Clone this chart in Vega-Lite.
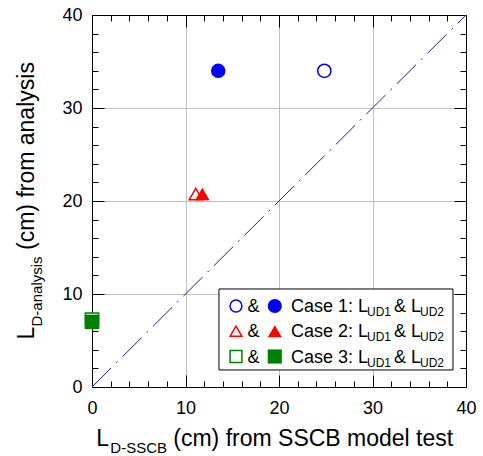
{
  "$schema": "https://vega.github.io/schema/vega-lite/v6.json",
  "width": 374,
  "height": 372,
  "autosize": {"type": "none"},
  "padding": {"left": 92, "top": 15, "right": 17, "bottom": 69},
  "background": "white",
  "config": {
    "view": {"stroke": null},
    "font": "Liberation Sans",
    "axis": {
      "domainColor": "black",
      "domainWidth": 1,
      "tickColor": "black",
      "tickWidth": 1,
      "tickCount": 100,
      "format": "d",
      "labelColor": "black",
      "labelFont": "Liberation Sans",
      "labelFontSize": 18,
      "labelFlush": false,
      "labelOverlap": false,
      "gridColor": "#c0c0c0",
      "gridWidth": 1
    }
  },
  "datasets": {
    "points": [
      {"case": "Case 1", "kind": "LUD1", "x": 24.85, "y": 34.0},
      {"case": "Case 1", "kind": "LUD2", "x": 13.5, "y": 34.0},
      {"case": "Case 2", "kind": "LUD1", "x": 11.1, "y": 20.75},
      {"case": "Case 2", "kind": "LUD2", "x": 11.8, "y": 20.75},
      {"case": "Case 3", "kind": "LUD1", "x": 0, "y": 7.25},
      {"case": "Case 3", "kind": "LUD2", "x": 0, "y": 7.0}
    ],
    "diag": [{"x": 0, "y": 0}, {"x": 40, "y": 40}],
    "legend": [
      {"case": "Case 1", "label": "Case 1: L"},
      {"case": "Case 2", "label": "Case 2: L"},
      {"case": "Case 3", "label": "Case 3: L"}
    ]
  },
  "layer": [
    {
      "layer": [
        {
          "data": {"name": "points"},
          "transform": [{"filter": "datum.kind === 'LUD1'"}],
          "mark": {"type": "point", "filled": false, "fill": "white", "strokeWidth": 1.5, "size": 175, "opacity": 1},
          "encoding": {
            "x": {
              "field": "x", "type": "quantitative",
              "scale": {"domain": [0, 40], "nice": false, "zero": false},
              "axis": {
                "orient": "bottom", "title": null, "tickCount": 100, "format": "d",
                "values": [0, 2, 4, 6, 8, 10, 12, 14, 16, 18, 20, 22, 24, 26, 28, 30, 32, 34, 36, 38, 40],
                "labelExpr": "datum.value % 10 === 0 ? datum.label : ''",
                "tickSize": {"condition": {"test": "datum.value % 10 === 0", "value": -12}, "value": -6},
                "grid": true,
                "gridOpacity": {"condition": {"test": "datum.value % 10 === 0 && datum.value > 0 && datum.value < 40", "value": 1}, "value": 0},
                "labelPadding": 24
              }
            },
            "y": {
              "field": "y", "type": "quantitative",
              "scale": {"domain": [0, 40], "nice": false, "zero": false},
              "axis": {
                "orient": "left", "title": null, "tickCount": 100, "format": "d",
                "values": [0, 2, 4, 6, 8, 10, 12, 14, 16, 18, 20, 22, 24, 26, 28, 30, 32, 34, 36, 38, 40],
                "labelExpr": "datum.value % 10 === 0 ? datum.label : ''",
                "tickSize": {"condition": {"test": "datum.value % 10 === 0", "value": -12}, "value": -6},
                "grid": true,
                "gridOpacity": {"condition": {"test": "datum.value % 10 === 0 && datum.value > 0 && datum.value < 40", "value": 1}, "value": 0},
                "labelPadding": 22
              }
            },
            "color": {
              "field": "case", "type": "nominal",
              "scale": {"domain": ["Case 1", "Case 2", "Case 3"], "range": ["#0000ff", "#ff0000", "#008000"]},
              "legend": null
            },
            "shape": {
              "field": "case", "type": "nominal",
              "scale": {"domain": ["Case 1", "Case 2", "Case 3"], "range": ["circle", "triangle-up", "square"]},
              "legend": null
            }
          }
        },
        {
          "data": {"name": "points"},
          "transform": [{"filter": "datum.kind === 'LUD2'"}],
          "mark": {"type": "point", "filled": true, "strokeWidth": 0, "size": 210, "opacity": 1},
          "encoding": {
            "x": {"field": "x", "type": "quantitative"},
            "y": {"field": "y", "type": "quantitative"},
            "color": {"field": "case", "type": "nominal", "legend": null},
            "shape": {"field": "case", "type": "nominal", "legend": null}
          }
        },
        {
          "data": {"values": [{}]},
          "mark": {"type": "rect", "fill": "white", "stroke": "black", "strokeWidth": 1},
          "encoding": {
            "x": {"datum": 13.58, "type": "quantitative"},
            "x2": {"datum": 38.61},
            "y": {"datum": 10.54, "type": "quantitative"},
            "y2": {"datum": 1.83}
          }
        },
        {
          "data": {"values": [{}]},
          "mark": {"type": "text", "text": "L", "align": "left", "baseline": "alphabetic", "fontSize": 23, "color": "black"},
          "encoding": {
            "x": {"datum": 0.46, "type": "quantitative"},
            "y": {"datum": -6.3, "type": "quantitative"}
          }
        },
        {
          "data": {"values": [{}]},
          "mark": {"type": "text", "text": "D-SSCB", "align": "left", "baseline": "alphabetic", "fontSize": 15, "dx": 14, "dy": 7, "color": "black"},
          "encoding": {
            "x": {"datum": 0.46, "type": "quantitative"},
            "y": {"datum": -6.3, "type": "quantitative"}
          }
        },
        {
          "data": {"values": [{}]},
          "mark": {"type": "text", "text": "(cm) from SSCB model test", "align": "left", "baseline": "alphabetic", "fontSize": 23, "dx": 77, "color": "black"},
          "encoding": {
            "x": {"datum": 0.46, "type": "quantitative"},
            "y": {"datum": -6.3, "type": "quantitative"}
          }
        },
        {
          "data": {"values": [{}]},
          "mark": {"type": "text", "text": "L", "align": "left", "baseline": "alphabetic", "angle": 270, "fontSize": 23, "color": "black"},
          "encoding": {
            "x": {"datum": -6.2, "type": "quantitative"},
            "y": {"datum": 5.11, "type": "quantitative"}
          }
        },
        {
          "data": {"values": [{}]},
          "mark": {"type": "text", "text": "D-analysis", "align": "left", "baseline": "alphabetic", "angle": 270, "fontSize": 15, "dx": 13, "dy": 8, "color": "black"},
          "encoding": {
            "x": {"datum": -6.2, "type": "quantitative"},
            "y": {"datum": 5.11, "type": "quantitative"}
          }
        },
        {
          "data": {"values": [{}]},
          "mark": {"type": "text", "text": "(cm) from analysis", "align": "left", "baseline": "alphabetic", "angle": 270, "fontSize": 23, "dx": 89.5, "color": "black"},
          "encoding": {
            "x": {"datum": -6.2, "type": "quantitative"},
            "y": {"datum": 5.11, "type": "quantitative"}
          }
        }
      ]
    },
    {
      "data": {"name": "diag"},
      "mark": {"type": "line", "color": "#1c1c96", "strokeWidth": 1, "strokeDash": [27, 7, 2, 7]},
      "encoding": {
        "x": {
          "field": "x", "type": "quantitative",
          "scale": {"domain": [0, 40], "nice": false, "zero": false},
          "axis": {
            "orient": "top", "title": null, "labels": false, "grid": false, "tickCount": 100,
            "values": [0, 2, 4, 6, 8, 10, 12, 14, 16, 18, 20, 22, 24, 26, 28, 30, 32, 34, 36, 38, 40],
            "tickSize": {"condition": {"test": "datum.value % 10 === 0", "value": -12}, "value": -6}
          }
        },
        "y": {
          "field": "y", "type": "quantitative",
          "scale": {"domain": [0, 40], "nice": false, "zero": false},
          "axis": {
            "orient": "right", "title": null, "labels": false, "grid": false, "tickCount": 100,
            "values": [0, 2, 4, 6, 8, 10, 12, 14, 16, 18, 20, 22, 24, 26, 28, 30, 32, 34, 36, 38, 40],
            "tickSize": {"condition": {"test": "datum.value % 10 === 0", "value": -12}, "value": -6}
          }
        }
      }
    },
    {
      "data": {"name": "legend"},
      "encoding": {
        "y": {
          "field": "case", "type": "nominal",
          "scale": {"type": "point", "domain": ["Case 1", "Case 2", "Case 3"], "range": [291, 341.5], "padding": 0},
          "axis": null
        }
      },
      "layer": [
        {
          "mark": {"type": "point", "filled": false, "fill": "white", "strokeWidth": 1.5, "size": 140, "opacity": 1},
          "encoding": {
            "x": {"datum": 15.4, "type": "quantitative", "axis": null},
            "color": {"field": "case", "type": "nominal", "legend": null},
            "shape": {"field": "case", "type": "nominal", "legend": null}
          }
        },
        {
          "mark": {"type": "text", "text": "&", "align": "left", "baseline": "alphabetic", "dy": 6, "fontSize": 18, "color": "black"},
          "encoding": {"x": {"datum": 16.63, "type": "quantitative", "axis": null}}
        },
        {
          "mark": {"type": "point", "filled": true, "strokeWidth": 0, "size": 200, "opacity": 1},
          "encoding": {
            "x": {"datum": 19.55, "type": "quantitative", "axis": null},
            "color": {"field": "case", "type": "nominal", "legend": null},
            "shape": {"field": "case", "type": "nominal", "legend": null}
          }
        },
        {
          "mark": {"type": "text", "align": "left", "baseline": "alphabetic", "dy": 6, "fontSize": 18, "color": "black"},
          "encoding": {
            "x": {"datum": 21.28, "type": "quantitative", "axis": null},
            "text": {"field": "label", "type": "nominal"}
          }
        },
        {
          "mark": {"type": "text", "text": "UD1", "align": "left", "baseline": "alphabetic", "dx": 76, "dy": 10, "fontSize": 12, "color": "black"},
          "encoding": {"x": {"datum": 21.28, "type": "quantitative", "axis": null}}
        },
        {
          "mark": {"type": "text", "text": "& L", "align": "left", "baseline": "alphabetic", "dx": 103, "dy": 6, "fontSize": 18, "color": "black"},
          "encoding": {"x": {"datum": 21.28, "type": "quantitative", "axis": null}}
        },
        {
          "mark": {"type": "text", "text": "UD2", "align": "left", "baseline": "alphabetic", "dx": 129, "dy": 10, "fontSize": 12, "color": "black"},
          "encoding": {"x": {"datum": 21.28, "type": "quantitative", "axis": null}}
        }
      ]
    }
  ],
  "resolve": {
    "scale": {"y": "independent"},
    "axis": {"x": "independent", "y": "independent"}
  }
}
